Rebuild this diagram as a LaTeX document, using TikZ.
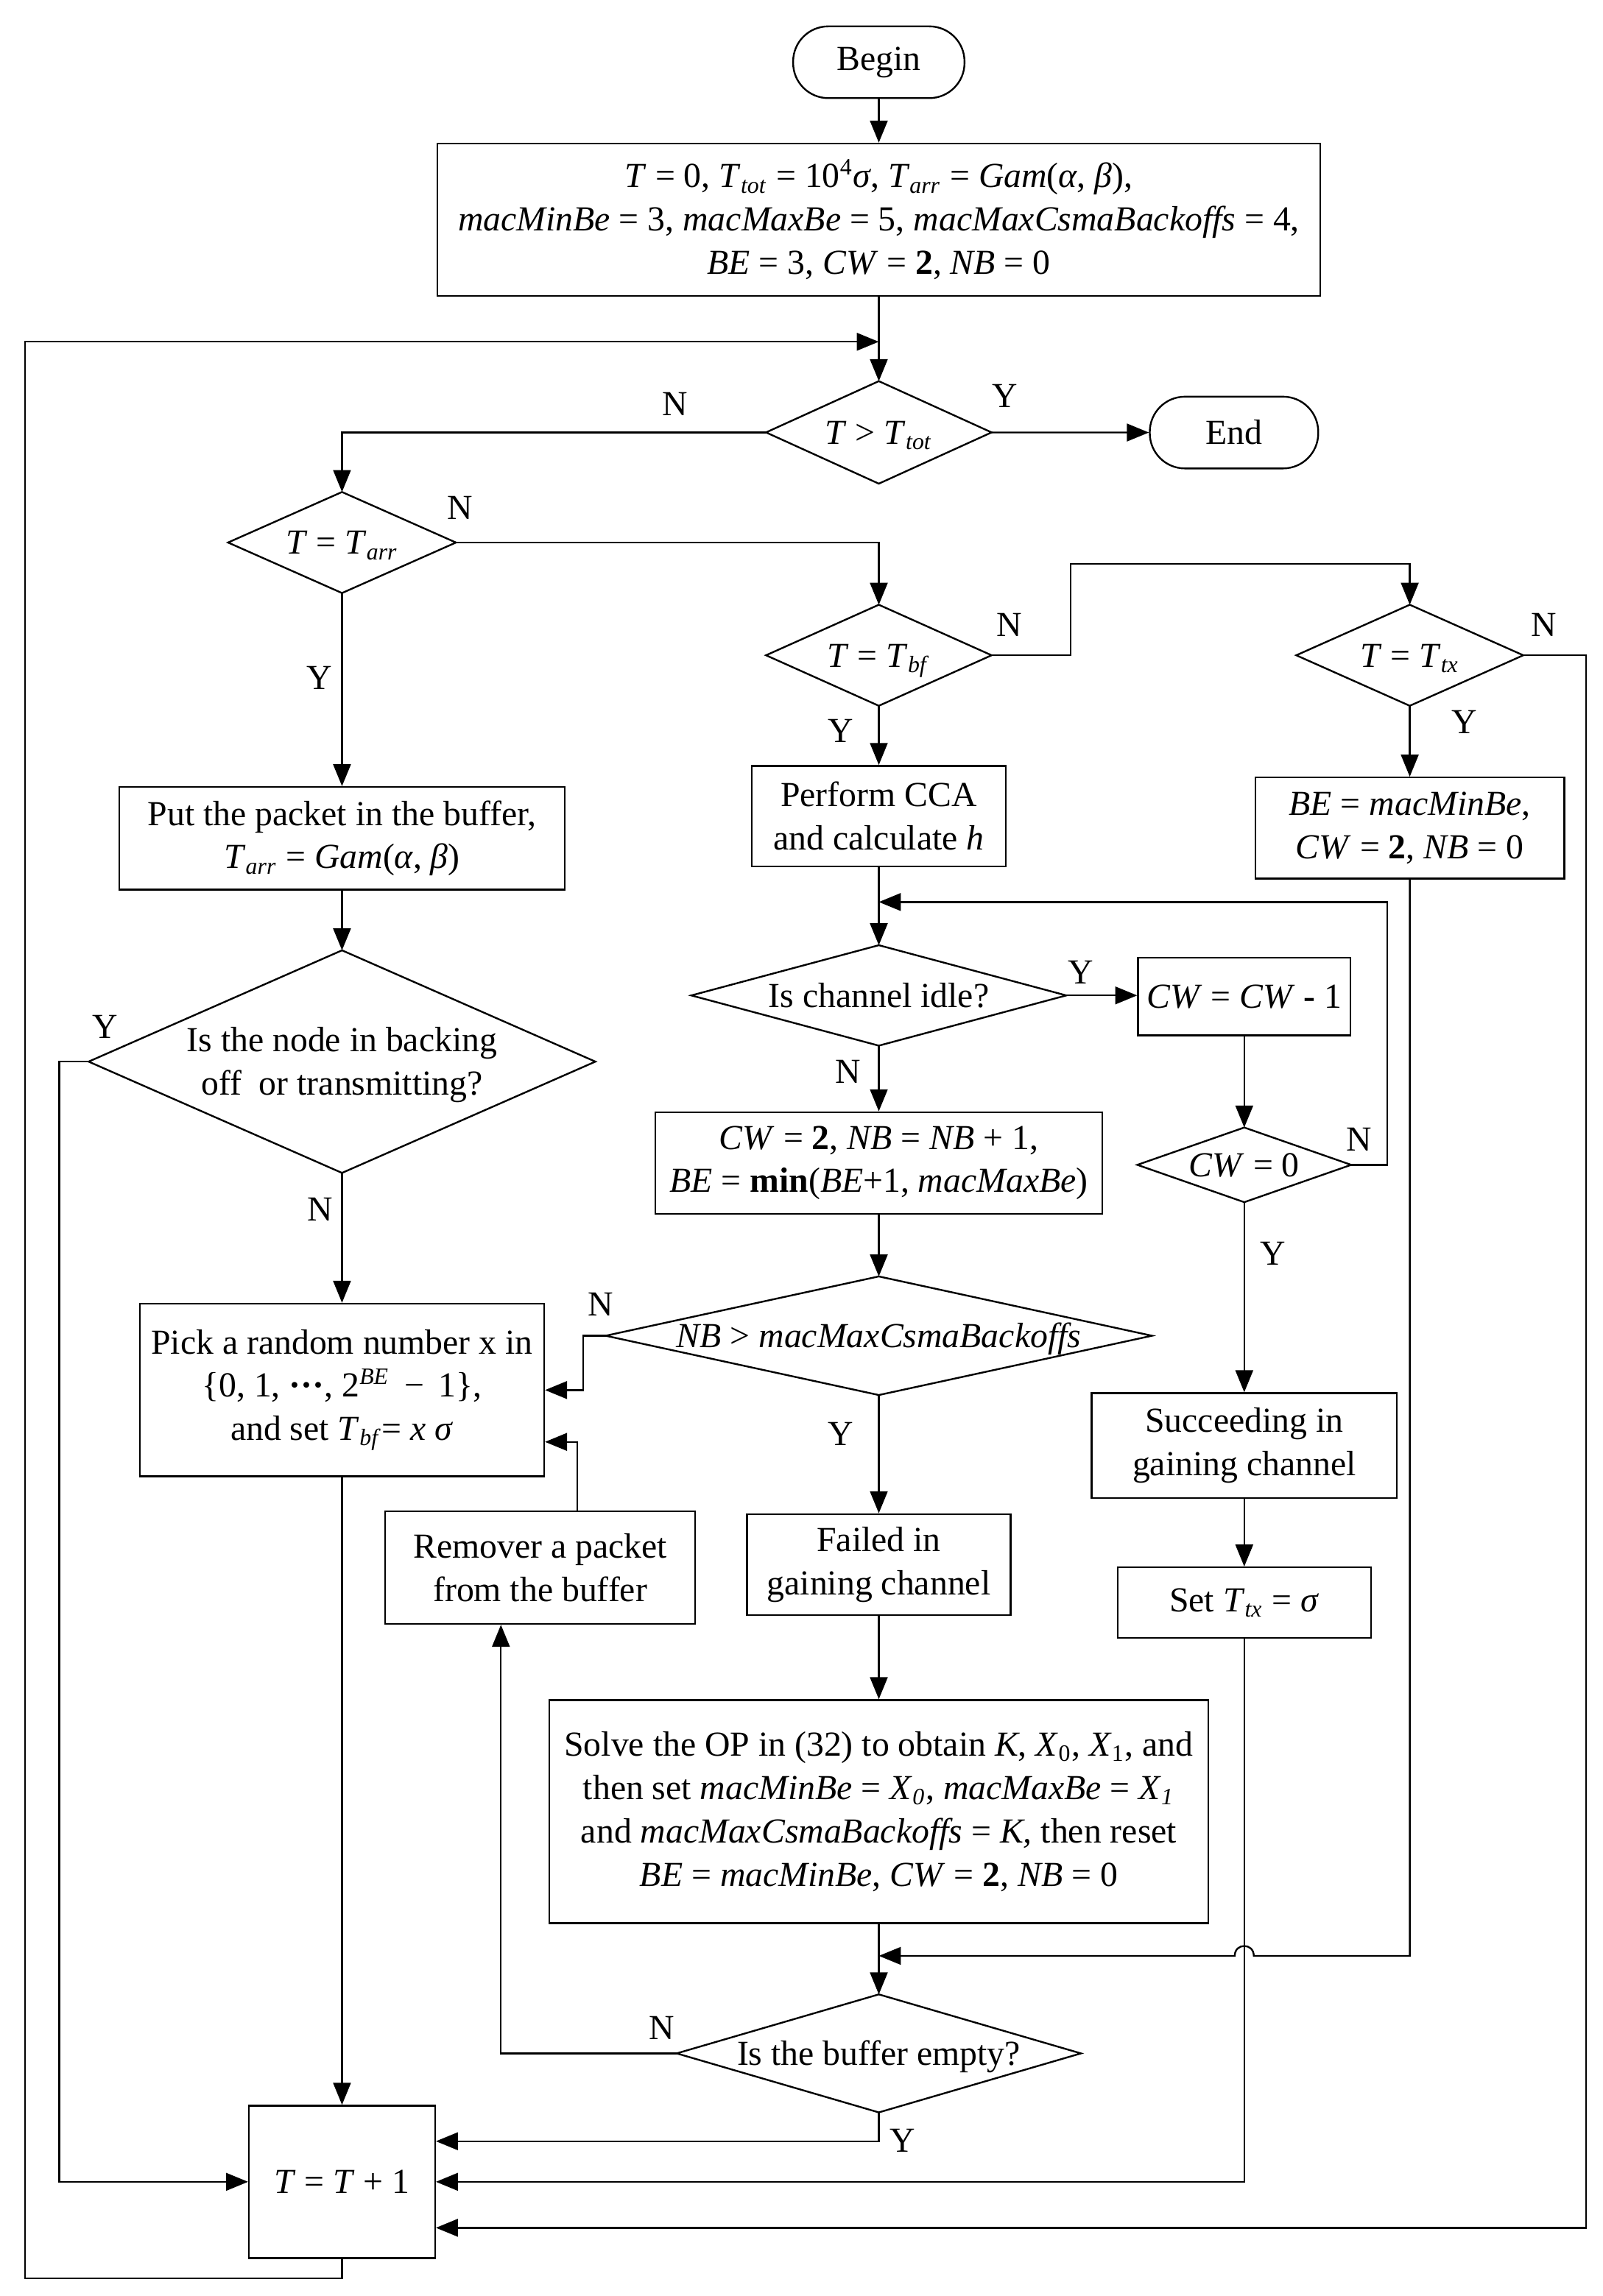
\documentclass[tikz,border=0pt]{standalone}
\usepackage{fontspec}
\setmainfont{Liberation Serif}
\usetikzlibrary{shapes.geometric,arrows.meta}
\newcommand\vv[1]{\textit{#1}}
\newcommand\sbi[1]{\textsubscript{\textit{#1}}}
\newcommand\dtx[1]{\smash{\makebox[0pt]{\raisebox{-4pt}{#1}}}}
\begin{document}
\begin{tikzpicture}[x=0.5pt,y=-0.5pt,
  every node/.style={font=\fontsize{12pt}{14.8pt}\selectfont},
  box/.style={draw,line width=0.6pt,rectangle,inner sep=0pt,align=center},
  term/.style={box,rounded corners=12pt},
  dia/.style={draw,line width=0.6pt,diamond,inner sep=0pt,outer sep=0pt},
  arr/.style={line width=0.6pt,-{Triangle[length=7.5pt,width=6pt]}},
  lbl/.style={inner sep=0pt}]
\useasboundingbox (0,0) rectangle (1094,1568);

% nodes
\node[term,minimum width=58.5pt,minimum height=24.5pt] (begin) at (600,42.5) {Begin};
\node[box,minimum width=301.5pt,minimum height=52pt] (init) at (600,150)
 {\vv{T} = 0, \vv{T}\sbi{tot} = 10\textsuperscript{4}\vv{σ}, \vv{T}\sbi{arr} = \vv{Gam}(\vv{α}, \vv{β}),\\
  \vv{macMinBe} = 3, \vv{macMaxBe} = 5, \vv{macMaxCsmaBackoffs} = 4,\\
  \vv{BE} = 3, \vv{CW} = \textbf{2}, \vv{NB} = 0};
\node[dia,minimum width=77pt,minimum height=35pt] (d1) at (600,295.3) {\dtx{\vv{T} > \vv{T}\sbi{tot}}};
\node[term,minimum width=57.5pt,minimum height=24.5pt] (endn) at (842.5,295.4) {End};
\node[dia,minimum width=77.8pt,minimum height=34.5pt] (d2) at (233.5,370.5) {\dtx{\vv{T} = \vv{T}\sbi{arr}}};
\node[dia,minimum width=77pt,minimum height=34.5pt] (d3) at (600,447.5) {\dtx{\vv{T} = \vv{T}\sbi{bf}}};
\node[dia,minimum width=77.5pt,minimum height=34.5pt] (d4) at (962.5,447.5) {\dtx{\vv{T} = \vv{T}\sbi{tx}}};
\node[box,minimum width=152pt,minimum height=35pt] (put) at (233.5,572.5)
 {Put the packet in the buffer,\\ \vv{T}\sbi{arr} = \vv{Gam}(\vv{α}, \vv{β})};
\node[box,minimum width=86.8pt,minimum height=34.3pt] (cca) at (600,557.3)
 {Perform CCA\\and calculate \vv{h}};
\node[box,minimum width=105.5pt,minimum height=34.5pt] (bemin) at (962.5,565.5)
 {\vv{BE} = \vv{macMinBe},\\ \vv{CW} = \textbf{2}, \vv{NB} = 0};
\node[dia,minimum width=173pt,minimum height=76pt] (d5) at (233.5,725)
 {\dtx{\begin{tabular}{@{}c@{}}Is the node in backing\\off\ \ or transmitting?\end{tabular}}};
\node[dia,minimum width=128pt,minimum height=34.3pt] (d6) at (600,679.8) {\dtx{Is channel idle?}};
\node[box,minimum width=72.5pt,minimum height=26.5pt] (cwm) at (849.5,680.5)
 {\vv{CW} = \vv{CW} \textbf{-} 1};
\node[dia,minimum width=73pt,minimum height=25.5pt] (cw0) at (849.5,795.5) {\dtx{\vv{CW} = 0}};
\node[box,minimum width=152.5pt,minimum height=34.7pt] (cw2) at (600,794.2)
 {\vv{CW} = \textbf{2}, \vv{NB} = \vv{NB} + 1,\\ \vv{BE} = \textbf{min}(\vv{BE}+1, \vv{macMaxBe})};
\node[dia,minimum width=186.5pt,minimum height=40.5pt] (dnb) at (600,912.2)
 {\dtx{\vv{NB} > \vv{macMaxCsmaBackoffs}}};
\node[box,minimum width=138pt,minimum height=59pt] (pick) at (233.5,949.3)
 {Pick a random number x in\\ \{0, 1, \textbf{···}, 2\textsuperscript{\vv{BE}} \,−\, 1\},\\ and set \vv{T}\sbi{bf}= \vv{x σ}};
\node[box,minimum width=104.3pt,minimum height=35.8pt] (succ) at (849.5,987.2)
 {Succeeding in\\gaining channel};
\node[box,minimum width=90pt,minimum height=34.5pt] (failed) at (600,1068.5)
 {Failed in\\gaining channel};
\node[box,minimum width=86.5pt,minimum height=24.1pt] (settx) at (849.5,1094.5)
 {Set \vv{T}\sbi{tx} = \vv{σ}};
\node[box,minimum width=105.8pt,minimum height=38.5pt] (remover) at (368.8,1070.5)
 {Remover a packet\\from the buffer};
\node[box,minimum width=225pt,minimum height=76.2pt] (solve) at (600,1237.2)
 {Solve the OP in (32) to obtain \vv{K}, \vv{X}\textsubscript{0}, \vv{X}\textsubscript{1}, and\\
  then set \vv{macMinBe} = \vv{X}\sbi{0}, \vv{macMaxBe} = \vv{X}\sbi{1}\\
  and \vv{macMaxCsmaBackoffs} = \vv{K,} then reset\\
  \vv{BE} = \vv{macMinBe}, \vv{CW} = \textbf{2}, \vv{NB} = 0};
\node[dia,minimum width=138pt,minimum height=40.3pt] (dbuf) at (600,1402.3) {\dtx{Is the buffer empty?}};
\node[box,minimum width=63.5pt,minimum height=52pt] (tinc) at (233.5,1490) {\vv{T} = \vv{T} + 1};

% labels
\node[lbl] (lN1) at (460.7,276) {N};
\node[lbl] (lY1) at (686,270.4) {Y};
\node[lbl] (lN2) at (314,347) {N};
\node[lbl] (lY2) at (218,463) {Y};
\node[lbl] (lN3) at (689,426.5) {N};
\node[lbl] (lY3) at (574,499) {Y};
\node[lbl] (lN4) at (1054,426.5) {N};
\node[lbl] (lY4) at (1000,493) {Y};
\node[lbl] (lY5) at (72,701) {Y};
\node[lbl] (lN5) at (218.5,826) {N};
\node[lbl] (lY6) at (738,664) {Y};
\node[lbl] (lN6) at (579,732) {N};
\node[lbl] (lN7) at (928,778) {N};
\node[lbl] (lY7) at (869,856) {Y};
\node[lbl] (lN8) at (410,891) {N};
\node[lbl] (lY8) at (574,979) {Y};
\node[lbl] (lN9) at (452,1385) {N};
\node[lbl] (lY9) at (616,1462) {Y};

% coordinates
\coordinate (m0) at (600,233.4);
\coordinate (b1) at (233.5,1556);
\coordinate (b2) at (17,1556);
\coordinate (b3) at (17,233.4);
\coordinate (n1) at (731,447.5);
\coordinate (n2) at (731,385);
\coordinate (r1) at (1083,447.5);
\coordinate (r2) at (1083,1521.4);
\coordinate (l1) at (40.5,725);
\coordinate (l2) at (40.5,1490);
\coordinate (c1) at (947,795.5);
\coordinate (c2) at (947,616);
\coordinate (m2) at (600,616);
\coordinate (k1) at (398,912.2);
\coordinate (q1) at (394,984.7);
\coordinate (p1) at (342,1402.3);
\coordinate (h1) at (962.5,1335.7);
\coordinate (hR) at (856,1335.7);
\coordinate (hL) at (843,1335.7);
\coordinate (m1) at (600,1335.7);
\coordinate (s1) at (849.5,1490);
\coordinate (y1) at (600,1462.3);

% connectors
\draw[arr] (begin) -- (init);
\draw[arr] (init) -- (d1);
\draw[arr] (d1) -- (endn);
\draw[arr] (d1.west) -| (d2.north);
\draw[arr] (d2.east) -| (d3.north);
\draw[arr] (d2) -- (put);
\draw[arr] (d3.east) -- (n1) -- (n2) -| (d4.north);
\draw[arr] (d3) -- (cca);
\draw[arr] (d4) -- (bemin);
\draw[arr] (d4.east) -- (r1) -- (r2) -- (tinc.east |- r2);
\draw[arr] (put) -- (d5);
\draw[arr] (d5.west) -- (l1) -- (l2) -- (tinc.west |- l2);
\draw[arr] (d5) -- (pick);
\draw[arr] (pick) -- (tinc);
\draw[arr] (cca) -- (d6);
\draw[arr] (d6.east) -- (d6.east -| cwm.west);
\draw[arr] (cwm) -- (cw0);
\draw[arr] (cw0.east) -- (c1) -- (c2) -- (m2);
\draw[arr] (cw0) -- (succ);
\draw[arr] (succ) -- (settx);
\draw[arr] (settx.south) -- (s1) -- (tinc.east |- s1);
\draw[arr] (d6) -- (cw2);
\draw[arr] (cw2) -- (dnb);
\draw[arr] (dnb.west) -- (k1) |- (pick.east);
\draw[arr] (dnb) -- (failed);
\draw[arr] (failed) -- (solve);
\draw[arr] (solve) -- (dbuf);
\draw[arr] (bemin.south) -- (h1) -- (hR) .. controls +(0,-9) and +(0,-9) .. (hL) -- (m1);
\draw[arr] (dbuf.west) -- (p1) -- (p1 |- remover.south);
\draw[arr] (remover.north -| q1) -- (q1) -- (q1 -| pick.east);
\draw[arr] (dbuf.south) -- (y1) -- (tinc.east |- y1);
\draw[arr] (tinc.south) -- (b1) -- (b2) -- (b3) -- (m0);
\end{tikzpicture}
\end{document}
